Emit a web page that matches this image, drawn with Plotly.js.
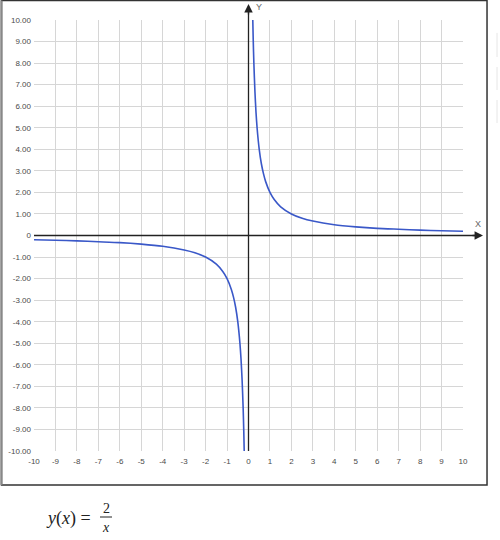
<!DOCTYPE html>
<html>
<head>
<meta charset="utf-8">
<script src="https://cdn.plot.ly/plotly-3.0.1.min.js"></script>
<style>html,body{margin:0;padding:0;background:#fff;}#chart{width:500px;height:540px;}</style>
</head>
<body>
<div id="chart"></div>
<script>
var posX = [0.2, 0.22, 0.25, 0.3, 0.35, 0.4, 0.5, 0.6, 0.7, 0.8, 1, 1.2, 1.5, 2, 2.5, 3, 4, 5, 6, 7, 8, 9, 10];
var posY = [10, 9.09, 8, 6.67, 5.71, 5, 4, 3.33, 2.86, 2.5, 2, 1.67, 1.33, 1, 0.8, 0.67, 0.5, 0.4, 0.33, 0.29, 0.25, 0.22, 0.2];
var negX = [-10, -9, -8, -7, -6, -5, -4, -3, -2.5, -2, -1.5, -1.2, -1, -0.8, -0.7, -0.6, -0.5, -0.4, -0.35, -0.3, -0.25, -0.22, -0.2];
var negY = [-0.2, -0.22, -0.25, -0.29, -0.33, -0.4, -0.5, -0.67, -0.8, -1, -1.33, -1.67, -2, -2.5, -2.86, -3.33, -4, -5, -5.71, -6.67, -8, -9.09, -10];

var xTickVals = [-10, -9, -8, -7, -6, -5, -4, -3, -2, -1, 0, 1, 2, 3, 4, 5, 6, 7, 8, 9, 10];
var xTickText = ["-10", "-9", "-8", "-7", "-6", "-5", "-4", "-3", "-2", "-1", "0", "1", "2", "3", "4", "5", "6", "7", "8", "9", "10"];
var yTickVals = [10, 9, 8, 7, 6, 5, 4, 3, 2, 1, 0, -1, -2, -3, -4, -5, -6, -7, -8, -9, -10];
var yTickText = ["10.00", "9.00", "8.00", "7.00", "6.00", "5.00", "4.00", "3.00", "2.00", "1.00", "0", "-1.00", "-2.00", "-3.00", "-4.00", "-5.00", "-6.00", "-7.00", "-8.00", "-9.00", "-10.00"];

var curveColor = '#3a58c8';
var traces = [
  {x: posX, y: posY, mode: 'lines', line: {color: curveColor, width: 1.6, shape: 'spline', smoothing: 0.6}, hoverinfo: 'skip', cliponaxis: true},
  {x: negX, y: negY, mode: 'lines', line: {color: curveColor, width: 1.6, shape: 'spline', smoothing: 0.6}, hoverinfo: 'skip', cliponaxis: true}
];

var tickFont = {family: 'Liberation Sans, Arial, sans-serif', size: 8, color: '#4a4a4a'};
var axisColor = '#222';
var serif = 'Liberation Serif, Times New Roman, serif';

var layout = {
  width: 500, height: 540,
  margin: {l: 34, r: 37, t: 20, b: 89, pad: 0},
  paper_bgcolor: '#fff', plot_bgcolor: '#fff',
  showlegend: false,
  xaxis: {range: [-10, 10], tickvals: xTickVals, ticktext: xTickText, showgrid: true, gridcolor: '#d6d6d6', gridwidth: 1,
          zeroline: false, showline: false, ticks: '', tickfont: tickFont, fixedrange: true, ticklabelstandoff: 4},
  yaxis: {range: [-10, 10], tickvals: yTickVals, ticktext: yTickText, showgrid: true, gridcolor: '#d6d6d6', gridwidth: 1,
          zeroline: false, showline: false, ticks: '', tickfont: tickFont, fixedrange: true, ticklabelstandoff: 2},
  shapes: [
    // x axis line
    {type: 'line', xref: 'paper', yref: 'y', x0: 0, x1: 1.04, y0: 0, y1: 0, line: {color: axisColor, width: 1.3}},
    // y axis line
    {type: 'line', xref: 'x', yref: 'paper', x0: 0, x1: 0, y0: 0, y1: 1.03, line: {color: axisColor, width: 1.3}},
    // outer frame
    {type: 'rect', xref: 'paper', yref: 'paper', x0: -0.0758, x1: 1.056, y0: -0.0789, y1: 1.0452, line: {color: '#333', width: 1.5}},
    {type: 'line', xref: 'paper', yref: 'paper', x0: -0.0758, x1: -0.0758, y0: -0.0789, y1: 1.0452, line: {color: '#888', width: 2}},
    // fraction bar
    {type: 'line', xref: 'paper', yref: 'paper', x0: (100 - 34) / 429, x1: (112 - 34) / 429, y0: (451 - 517) / 431, y1: (451 - 517) / 431, line: {color: '#222', width: 1}},
    // faint marks at right edge
    {type: 'line', xref: 'paper', yref: 'paper', x0: 1.0793, x1: 1.0793, y0: 0.914, y1: 0.970, line: {color: '#e6e6e6', width: 1}},
    {type: 'line', xref: 'paper', yref: 'paper', x0: 1.0793, x1: 1.0793, y0: 0.8376, y1: 0.891, line: {color: '#e6e6e6', width: 1}},
    {type: 'line', xref: 'paper', yref: 'paper', x0: 1.0793, x1: 1.0793, y0: 0.761, y1: 0.8144, line: {color: '#e6e6e6', width: 1}}
  ],
  annotations: [
    // x arrow
    {xref: 'paper', yref: 'y', x: (483 - 34) / 429, y: 0, ax: -12, ay: 0, text: '', showarrow: true, arrowhead: 2, arrowsize: 1.3, arrowwidth: 1.3, arrowcolor: axisColor},
    // y arrow
    {xref: 'x', yref: 'paper', x: 0, y: (451 - 4) / 431, ax: 0, ay: 12, text: '', showarrow: true, arrowhead: 2, arrowsize: 1.3, arrowwidth: 1.3, arrowcolor: axisColor},
    {xref: 'paper', yref: 'paper', x: (478 - 34) / 429, y: (451 - 224) / 431, text: 'X', showarrow: false, font: {family: 'Liberation Sans, Arial, sans-serif', size: 9, color: '#666'}, xanchor: 'center', yanchor: 'middle'},
    {xref: 'paper', yref: 'paper', x: (259 - 34) / 429, y: (451 - 7) / 431, text: 'Y', showarrow: false, font: {family: 'Liberation Sans, Arial, sans-serif', size: 9, color: '#666'}, xanchor: 'center', yanchor: 'middle'},
    // formula
    {xref: 'paper', yref: 'paper', x: (44 - 34) / 429, y: (451 - 518) / 431, text: '<i>y</i>(<i>x</i>) =', showarrow: false, font: {family: serif, size: 18, color: '#222'}, xanchor: 'left', yanchor: 'middle'},
    {xref: 'paper', yref: 'paper', x: (106 - 34) / 429, y: (451 - 508) / 431, text: '2', showarrow: false, font: {family: serif, size: 14, color: '#222'}, xanchor: 'center', yanchor: 'middle'},
    {xref: 'paper', yref: 'paper', x: (106 - 34) / 429, y: (451 - 527) / 431, text: '<i>x</i>', showarrow: false, font: {family: serif, size: 14, color: '#222'}, xanchor: 'center', yanchor: 'middle'}
  ]
};

Plotly.newPlot('chart', traces, layout, {displayModeBar: false, staticPlot: true});
</script>
</body>
</html>
